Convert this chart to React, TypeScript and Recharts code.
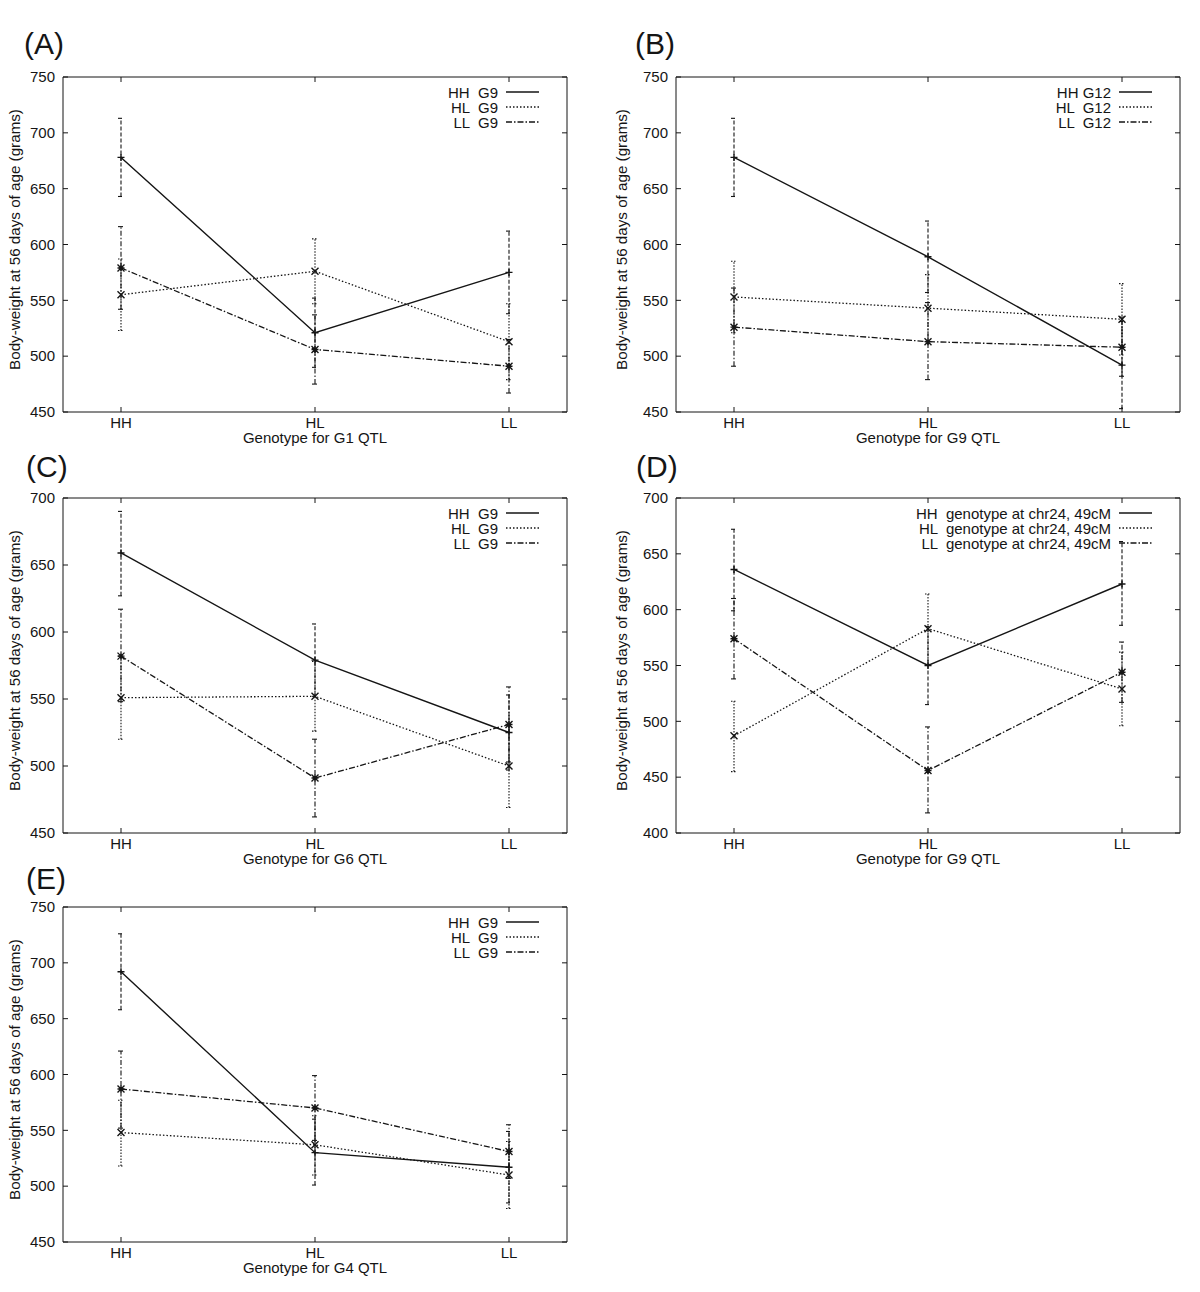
import React from "react";
import { ErrorBar, Line, LineChart, XAxis, YAxis } from "recharts";

const genotypes = ["HH", "HL", "LL"];

const ticks450to750 = [450, 500, 550, 600, 650, 700, 750];
const ticks450to700 = [450, 500, 550, 600, 650, 700];
const ticks400to700 = [400, 450, 500, 550, 600, 650, 700];

// (A) genotype for G1 QTL, split by G9
const aHH = [678, 521, 575];
const aHHLow = [643, 490, 538];
const aHHHigh = [713, 552, 612];
const aHL = [555, 576, 513];
const aHLLow = [523, 547, 479];
const aHLHigh = [587, 605, 547];
const aLL = [579, 506, 491];
const aLLLow = [542, 475, 467];
const aLLHigh = [616, 537, 515];

// (B) genotype for G9 QTL, split by G12
const bHH = [678, 589, 492];
const bHHLow = [643, 557, 453];
const bHHHigh = [713, 621, 531];
const bHL = [553, 543, 533];
const bHLLow = [521, 513, 501];
const bHLHigh = [585, 573, 565];
const bLL = [526, 513, 508];
const bLLLow = [491, 479, 482];
const bLLHigh = [561, 548, 535];

// (C) genotype for G6 QTL, split by G9
const cHH = [659, 579, 525];
const cHHLow = [627, 552, 497];
const cHHHigh = [690, 606, 553];
const cHL = [551, 552, 500];
const cHLLow = [520, 526, 469];
const cHLHigh = [582, 578, 531];
const cLL = [582, 491, 531];
const cLLLow = [548, 462, 503];
const cLLHigh = [617, 520, 559];

// (D) genotype for G9 QTL, split by chr24 49cM
const dHH = [636, 550, 623];
const dHHLow = [599, 515, 586];
const dHHHigh = [672, 585, 661];
const dHL = [487, 583, 529];
const dHLLow = [455, 551, 496];
const dHLHigh = [518, 614, 562];
const dLL = [574, 456, 544];
const dLLLow = [538, 418, 517];
const dLLHigh = [610, 495, 571];

// (E) genotype for G4 QTL, split by G9
const eHH = [692, 530, 517];
const eHHLow = [658, 501, 485];
const eHHHigh = [726, 560, 549];
const eHL = [548, 537, 510];
const eHLLow = [518, 510, 480];
const eHLHigh = [577, 563, 540];
const eLL = [587, 570, 531];
const eLLLow = [552, 541, 507];
const eLLHigh = [621, 599, 555];

const FONT = "'Liberation Sans', Arial, Helvetica, sans-serif";
const INK = "#151515";

type Kind = "plus" | "cross" | "star";
type Style = { dash?: string; errDash: string; kind: Kind; width: number };

const seriesStyles: Style[] = [
  { dash: undefined, errDash: "4 2", kind: "plus", width: 1.4 },
  { dash: "1.5 2", errDash: "1.5 1.5", kind: "cross", width: 1.3 },
  { dash: "6 2 1.5 2", errDash: "5 2 1.5 2", kind: "star", width: 1.3 },
];
const seriesKeys = ["hh", "hl", "ll"];

type Panel = {
  id: string;
  left: number;
  top: number;
  plotLeft: number;
  plotRight: number;
  plotTop: number;
  plotBottom: number;
  domain: [number, number];
  yTicks: number[];
  xTitle: string;
  legend: string[];
  letterX: number;
  letterY: number;
  yLabelX: number;
  values: number[][];
  lows: number[][];
  highs: number[][];
};

const panels: Panel[] = [
  {
    id: "A", left: 0, top: 0, plotLeft: 63, plotRight: 567, plotTop: 77, plotBottom: 412,
    domain: [450, 750], yTicks: ticks450to750, xTitle: "Genotype for G1 QTL",
    legend: ["HH  G9", "HL  G9", "LL  G9"], letterX: 24, letterY: 54, yLabelX: 14,
    values: [aHH, aHL, aLL], lows: [aHHLow, aHLLow, aLLLow], highs: [aHHHigh, aHLHigh, aLLHigh],
  },
  {
    id: "B", left: 613, top: 0, plotLeft: 676, plotRight: 1180, plotTop: 77, plotBottom: 412,
    domain: [450, 750], yTicks: ticks450to750, xTitle: "Genotype for G9 QTL",
    legend: ["HH G12", "HL  G12", "LL  G12"], letterX: 635, letterY: 54, yLabelX: 621,
    values: [bHH, bHL, bLL], lows: [bHHLow, bHLLow, bLLLow], highs: [bHHHigh, bHLHigh, bLLHigh],
  },
  {
    id: "C", left: 0, top: 421, plotLeft: 63, plotRight: 567, plotTop: 498, plotBottom: 833,
    domain: [450, 700], yTicks: ticks450to700, xTitle: "Genotype for G6 QTL",
    legend: ["HH  G9", "HL  G9", "LL  G9"], letterX: 26, letterY: 477, yLabelX: 14,
    values: [cHH, cHL, cLL], lows: [cHHLow, cHLLow, cLLLow], highs: [cHHHigh, cHLHigh, cLLHigh],
  },
  {
    id: "D", left: 613, top: 421, plotLeft: 676, plotRight: 1180, plotTop: 498, plotBottom: 833,
    domain: [400, 700], yTicks: ticks400to700, xTitle: "Genotype for G9 QTL",
    legend: [
      "HH  genotype at chr24, 49cM",
      "HL  genotype at chr24, 49cM",
      "LL  genotype at chr24, 49cM",
    ],
    letterX: 636, letterY: 477, yLabelX: 621,
    values: [dHH, dHL, dLL], lows: [dHHLow, dHLLow, dLLLow], highs: [dHHHigh, dHLHigh, dLLHigh],
  },
  {
    id: "E", left: 0, top: 830, plotLeft: 63, plotRight: 567, plotTop: 907, plotBottom: 1242,
    domain: [450, 750], yTicks: ticks450to750, xTitle: "Genotype for G4 QTL",
    legend: ["HH  G9", "HL  G9", "LL  G9"], letterX: 26, letterY: 889, yLabelX: 14,
    values: [eHH, eHL, eLL], lows: [eHHLow, eHLLow, eLLLow], highs: [eHHHigh, eHLHigh, eLLHigh],
  },
];

const CHART_W = 600;
const CHART_H = 460;
const AXIS_T = 1; // thickness reserved by each axis

function makeDot(kind: Kind) {
  return (props: any) => {
    const { cx, cy, index } = props;
    const s = 3.5;
    let d = "";
    if (kind === "plus" || kind === "star") d += `M${cx - s},${cy}H${cx + s}M${cx},${cy - s}V${cy + s}`;
    if (kind === "cross" || kind === "star")
      d += `M${cx - s},${cy - s}L${cx + s},${cy + s}M${cx - s},${cy + s}L${cx + s},${cy - s}`;
    return <path key={`${kind}-${index}`} d={d} stroke={INK} strokeWidth={1.4} fill="none" />;
  };
}

function buildRows(p: Panel) {
  return genotypes.map((g, i) => {
    const row: Record<string, any> = { g };
    seriesKeys.forEach((k, s) => {
      const v = p.values[s][i];
      row[k] = v;
      row[`${k}Err`] = [v - p.lows[s][i], p.highs[s][i] - v];
    });
    return row;
  });
}

function PanelChart({ p }: { p: Panel }) {
  const rows = buildRows(p);
  const margin = {
    top: p.plotTop - p.top - AXIS_T,
    left: p.plotLeft - p.left - AXIS_T,
    right: p.left + CHART_W - p.plotRight - AXIS_T,
    bottom: p.top + CHART_H - p.plotBottom - AXIS_T,
  };
  const pad = Math.round((p.plotRight - p.plotLeft) * 0.115);
  const tickStyle = { fill: INK, fontSize: 15, fontFamily: FONT };
  const axisStroke = { stroke: INK, strokeWidth: 1 };

  return (
    <div style={{ position: "absolute", left: p.left, top: p.top }}>
      <LineChart width={CHART_W} height={CHART_H} data={rows} margin={margin}>
        <XAxis
          dataKey="g"
          scale="point"
          padding={{ left: pad, right: pad }}
          height={AXIS_T}
          interval={0}
          tickSize={-5}
          tickMargin={10}
          axisLine={axisStroke}
          tickLine={axisStroke}
          tick={tickStyle}
          label={{
            value: p.xTitle,
            position: "bottom",
            offset: 19,
            fill: INK,
            fontSize: 15,
            fontFamily: FONT,
          }}
        />
        <XAxis
          xAxisId="top"
          orientation="top"
          dataKey="g"
          scale="point"
          padding={{ left: pad, right: pad }}
          height={AXIS_T}
          interval={0}
          tickSize={-5}
          axisLine={axisStroke}
          tickLine={axisStroke}
          tickFormatter={() => ""}
        />
        <YAxis
          type="number"
          domain={p.domain}
          ticks={p.yTicks}
          allowDataOverflow
          width={AXIS_T}
          interval={0}
          tickSize={-5}
          tickMargin={13}
          axisLine={axisStroke}
          tickLine={axisStroke}
          tick={tickStyle}
        />
        <YAxis
          yAxisId="r"
          orientation="right"
          type="number"
          domain={p.domain}
          ticks={p.yTicks}
          allowDataOverflow
          width={AXIS_T}
          interval={0}
          tickSize={-5}
          axisLine={axisStroke}
          tickLine={axisStroke}
          tickFormatter={() => ""}
        />
        {seriesKeys.map((k, s) => (
          <Line
            key={k}
            type="linear"
            dataKey={k}
            stroke={INK}
            strokeWidth={seriesStyles[s].width}
            strokeDasharray={seriesStyles[s].dash}
            dot={makeDot(seriesStyles[s].kind)}
            activeDot={false}
            isAnimationActive={false}
          >
            <ErrorBar
              dataKey={`${k}Err`}
              direction="y"
              width={3}
              stroke={INK}
              strokeWidth={1.1}
              strokeDasharray={seriesStyles[s].errDash}
              isAnimationActive={false}
            />
          </Line>
        ))}
      </LineChart>
    </div>
  );
}

function Overlay() {
  return (
    <svg
      width={1200}
      height={1292}
      style={{ position: "absolute", left: 0, top: 0, pointerEvents: "none" }}
    >
      {panels.map((p) => {
        const lineEnd = p.plotRight - 28;
        const lineStart = lineEnd - 33;
        const cy = (p.plotTop + p.plotBottom) / 2 - 5;
        return (
          <g key={p.id} fontFamily={FONT} fill={INK}>
            <text x={p.letterX} y={p.letterY} fontSize={30}>
              ({p.id})
            </text>
            <text
              transform={`translate(${p.yLabelX},${cy}) rotate(-90)`}
              textAnchor="middle"
              dominantBaseline="central"
              fontSize={15.2}
            >
              Body-weight at 56 days of age (grams)
            </text>
            {p.legend.map((name, i) => {
              const y = p.plotTop + 15 + i * 15;
              return (
                <g key={name}>
                  <text
                    x={lineStart - 8}
                    y={y + 5.5}
                    textAnchor="end"
                    fontSize={15}
                    style={{ whiteSpace: "pre" }}
                  >
                    {name}
                  </text>
                  <line
                    x1={lineStart}
                    x2={lineEnd}
                    y1={y}
                    y2={y}
                    stroke={INK}
                    strokeWidth={seriesStyles[i].width}
                    strokeDasharray={seriesStyles[i].dash}
                  />
                </g>
              );
            })}
          </g>
        );
      })}
    </svg>
  );
}

export default function App() {
  return (
    <div
      style={{
        position: "absolute",
        left: 0,
        top: 0,
        width: 1200,
        height: 1292,
        background: "#fff",
      }}
    >
      {panels.map((p) => (
        <PanelChart key={p.id} p={p} />
      ))}
      <Overlay />
    </div>
  );
}
